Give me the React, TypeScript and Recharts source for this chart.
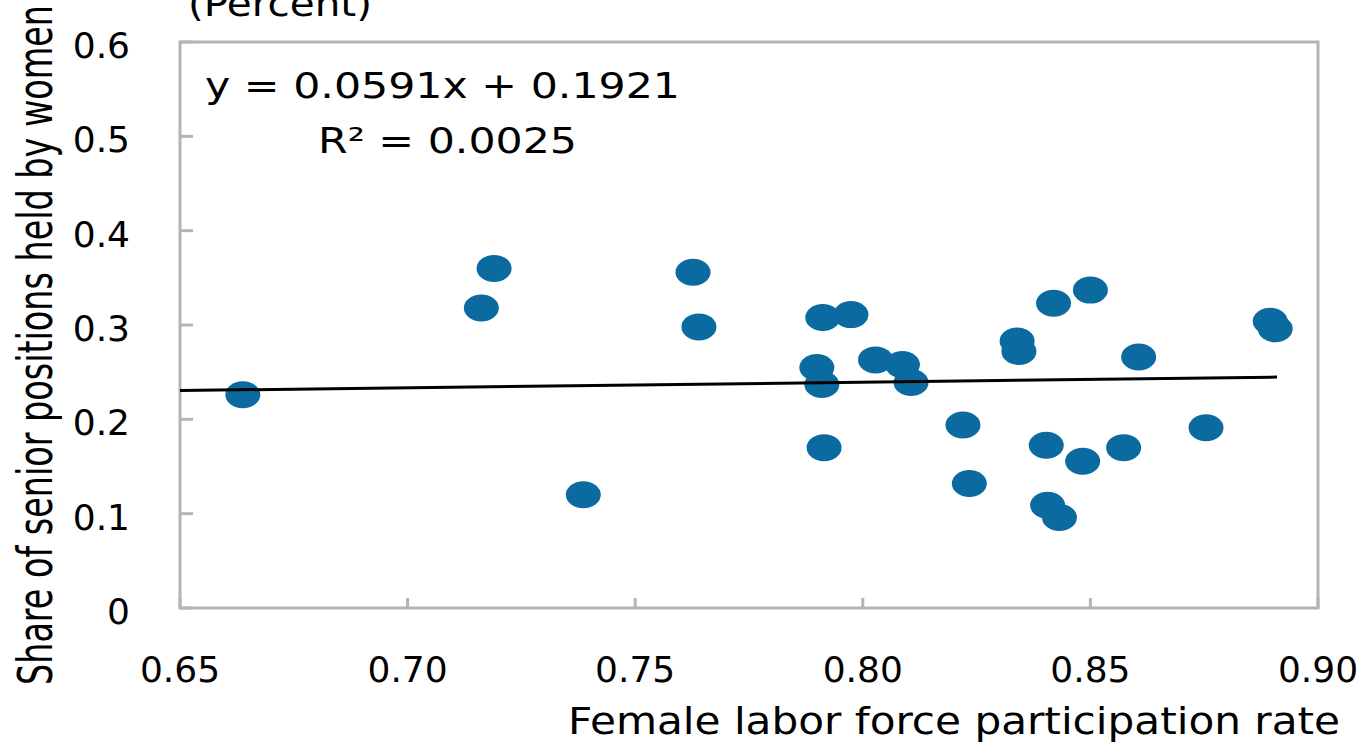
import React from "react";
import { ScatterChart, Scatter, XAxis, YAxis, ReferenceArea } from "recharts";

// labor force participation (x) vs share of senior positions held by women (y)
const participation = [
  0.6638, 0.7162, 0.719, 0.7386, 0.7627, 0.764, 0.7899, 0.7912, 0.791, 0.7915,
  0.7974, 0.8028, 0.8087, 0.8106, 0.822, 0.8234, 0.8339, 0.8343, 0.8403, 0.8406,
  0.8419, 0.8432, 0.8483, 0.85, 0.8573, 0.8606, 0.8754, 0.8895, 0.8906,
];
const seniorShare = [
  0.226, 0.318, 0.36, 0.12, 0.356, 0.298, 0.255, 0.308, 0.237, 0.17,
  0.311, 0.263, 0.258, 0.239, 0.194, 0.132, 0.283, 0.272, 0.1725, 0.109,
  0.323, 0.096, 0.1555, 0.337, 0.17, 0.266, 0.191, 0.304, 0.296,
];
const xTicks = [0.65, 0.7, 0.75, 0.8, 0.85, 0.9];
const yTicks = [0, 0.1, 0.2, 0.3, 0.4, 0.5, 0.6];
const slope = 0.0591;
const intercept = 0.1921;
const trendRange = [0.65, 0.891];

const points = participation.map((x, i) => ({ x, y: seniorShare[i] }));
const trend = trendRange.map((x) => ({ x, y: slope * x + intercept }));

const FONT = "'DejaVu Sans', sans-serif";
const GREY = "#b4b4b4";
const BLUE = "#0b6a9f";

const XTick = ({ x, y, payload }: any) => (
  <g>
    <line x1={x} x2={x} y1={y} y2={y - 10} stroke={GREY} strokeWidth={3} />
    <text x={x} y={y + 74} textAnchor="middle" fontSize={36} fontFamily={FONT} fill="#000">
      {payload.value.toFixed(2)}
    </text>
  </g>
);

const YTick = ({ x, y, payload }: any) => (
  <g>
    <line x1={x} x2={x + 13} y1={y} y2={y} stroke={GREY} strokeWidth={3} />
    <text x={x - 50} y={y + 16} textAnchor="end" fontSize={36} fontFamily={FONT} fill="#000">
      {payload.value === 0 ? "0" : payload.value.toFixed(1)}
    </text>
  </g>
);

const Dot = ({ cx, cy }: any) => <ellipse cx={cx} cy={cy} rx={17.5} ry={13.5} fill={BLUE} />;

export default function App() {
  return (
    <div style={{ position: "absolute", left: 0, top: 0, width: 1370, height: 748, background: "#fff" }}>
      <ScatterChart width={1370} height={748} margin={{ top: 42, right: 52, bottom: 0, left: 0 }}>
        <XAxis
          type="number" dataKey="x" domain={[0.65, 0.9]} ticks={xTicks} allowDataOverflow
          height={140} tickSize={0} tickMargin={0} tickLine={false} axisLine={false} tick={<XTick />}
        />
        <YAxis
          type="number" dataKey="y" domain={[0, 0.6]} ticks={yTicks} allowDataOverflow
          width={180} tickSize={0} tickMargin={0} tickLine={false} axisLine={false} tick={<YTick />}
        />
        <ReferenceArea x1={0.65} x2={0.9} y1={0} y2={0.6} fill="none" stroke={GREY} strokeWidth={3} />
        <Scatter data={points} shape={<Dot />} isAnimationActive={false} />
        <Scatter data={trend} line={{ stroke: "#000", strokeWidth: 3 }} shape={() => <g />} isAnimationActive={false} />
        <text x={188} y={16} fontSize={36} fontFamily={FONT} fill="#000" textLength={184} lengthAdjust="spacingAndGlyphs">
          (Percent)
        </text>
        <text x={205} y={98} fontSize={36} fontFamily={FONT} fill="#000" textLength={475} lengthAdjust="spacingAndGlyphs">
          y = 0.0591x + 0.1921
        </text>
        <text x={318} y={153} fontSize={36} fontFamily={FONT} fill="#000" textLength={259} lengthAdjust="spacingAndGlyphs">
          R² = 0.0025
        </text>
        <text
          x={0} y={0} transform="translate(52, 345) rotate(-90)" textAnchor="middle"
          fontSize={48} fontFamily={FONT} fill="#000" textLength={680} lengthAdjust="spacingAndGlyphs"
        >
          Share of senior positions held by women
        </text>
        <text
          x={1340} y={734} textAnchor="end" fontSize={38} fontFamily={FONT} fill="#000"
          textLength={772} lengthAdjust="spacingAndGlyphs"
        >
          Female labor force participation rate
        </text>
      </ScatterChart>
    </div>
  );
}
